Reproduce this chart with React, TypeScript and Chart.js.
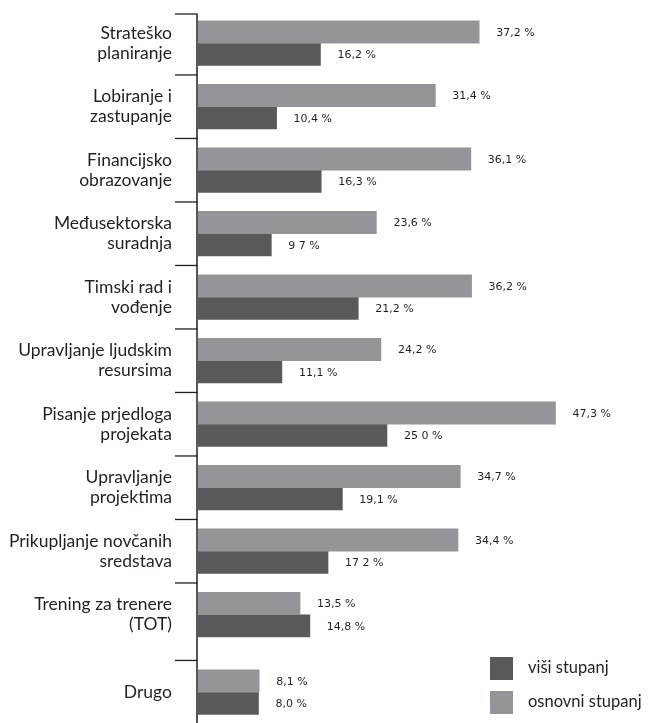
import React, { useEffect, useRef } from "react";
import { Chart, registerables } from "chart.js";

Chart.register(...registerables);

// ---- data ----
const categories: string[][] = [
  ["Strateško", "planiranje"],
  ["Lobiranje i", "zastupanje"],
  ["Financijsko", "obrazovanje"],
  ["Međusektorska", "suradnja"],
  ["Timski rad i", "vođenje"],
  ["Upravljanje ljudskim", "resursima"],
  ["Pisanje prjedloga", "projekata"],
  ["Upravljanje", "projektima"],
  ["Prikupljanje novčanih", "sredstava"],
  ["Trening za trenere", "(TOT)"],
  ["Drugo"],
];

const osnovniValues: number[] = [37.2, 31.4, 36.1, 23.6, 36.2, 24.2, 47.3, 34.7, 34.4, 13.5, 8.1];
const visiValues: number[] = [16.2, 10.4, 16.3, 9.7, 21.2, 11.1, 25.0, 19.1, 17.2, 14.8, 8.0];

const osnovniLabels: string[] = ["37,2 %", "31,4 %", "36,1 %", "23,6 %", "36,2 %", "24,2 %", "47,3 %", "34,7 %", "34,4 %", "13,5 %", "8,1 %"];
const visiLabels: string[] = ["16,2 %", "10,4 %", "16,3 %", "9 7 %", "21,2 %", "11,1 %", "25 0 %", "19,1 %", "17 2 %", "14,8 %", "8,0 %"];

const seriesNames: string[] = ["osnovni stupanj", "viši stupanj"];

// ---- styles ----
const LIGHT = "#939598";
const DARK = "#58595b";
const TEXT = "#231f20";
const LABEL_FONT = "Lato";
const VALUE_FONT = "DejaVu Sans";
const LAST_GROUP_EXTRA_GAP = 0.22;

const positions = categories.map((_, i) => i + (i === categories.length - 1 ? LAST_GROUP_EXTRA_GAP : 0));

const overlayPlugin = {
  id: "overlay",
  afterDraw(chart: any) {
    const { ctx, chartArea } = chart;
    const yScale = chart.scales.y;
    ctx.save();
    // axis line
    ctx.strokeStyle = "#231f20";
    ctx.lineWidth = 1.5;
    ctx.beginPath();
    ctx.moveTo(197, chartArea.top);
    ctx.lineTo(197, chartArea.bottom);
    ctx.stroke();
    // separators
    ctx.lineWidth = 1.3;
    positions.forEach((p, i) => {
      const y = i === 0 ? chartArea.top : yScale.getPixelForValue(p - 0.5);
      ctx.beginPath();
      ctx.moveTo(175, y);
      ctx.lineTo(197.5, y);
      ctx.stroke();
    });
    // value labels
    ctx.font = `11px "${VALUE_FONT}"`;
    ctx.fillStyle = TEXT;
    ctx.textAlign = "left";
    ctx.textBaseline = "middle";
    const labelSets = [osnovniLabels, visiLabels];
    chart.data.datasets.forEach((_: any, di: number) => {
      const meta = chart.getDatasetMeta(di);
      meta.data.forEach((el: any, i: number) => {
        ctx.fillText(labelSets[di][i], el.x + 17, el.y + 1);
      });
    });
    // legend (viši first, then osnovni)
    const legendItems = [
      { color: DARK, text: seriesNames[1] },
      { color: LIGHT, text: seriesNames[0] },
    ];
    ctx.font = `16.5px "${LABEL_FONT}"`;
    legendItems.forEach((item, k) => {
      const top = 657 + k * 34;
      ctx.fillStyle = item.color;
      ctx.fillRect(490, top, 23, 23);
      ctx.fillStyle = TEXT;
      ctx.fillText(item.text, 528, top + 11);
    });
    ctx.restore();
  },
};

export default function App() {
  const canvasRef = useRef<HTMLCanvasElement | null>(null);

  useEffect(() => {
    if (!canvasRef.current) return;
    const chart = new Chart(canvasRef.current, {
      type: "bar",
      data: {
        datasets: [
          {
            label: seriesNames[0],
            data: osnovniValues.map((v, i) => ({ x: v, y: positions[i] })),
            backgroundColor: LIGHT,
            borderWidth: 0,
          },
          {
            label: seriesNames[1],
            data: visiValues.map((v, i) => ({ x: v, y: positions[i] })),
            backgroundColor: DARK,
            borderWidth: 0,
          },
        ],
      },
      options: {
        indexAxis: "y",
        responsive: false,
        animation: false,
        barThickness: 22.3,
        layout: { padding: { top: 14, left: 0, right: 0, bottom: 0 } },
        plugins: {
          legend: { display: false },
          tooltip: { enabled: false },
        },
        scales: {
          x: {
            type: "linear",
            display: false,
            offset: false,
            min: 0,
            max: 59.8,
          },
          y: {
            type: "linear",
            reverse: true,
            offset: false,
            min: -0.46,
            max: 10.705,
            grid: { display: false, drawTicks: false, offset: false },
            border: { display: false },
            afterBuildTicks: (scale: any) => {
              scale.ticks = positions.map((p) => ({ value: p }));
            },
            afterFit: (scale: any) => {
              scale.width = 198;
              scale.paddingTop = 0;
              scale.paddingBottom = 0;
            },
            ticks: {
              autoSkip: false,
              padding: 26,
              color: TEXT,
              font: { family: LABEL_FONT, size: 17.5, lineHeight: 1.15 },
              callback: (_v: any, i: number) => categories[i],
            },
          },
        },
      } as any,
      plugins: [overlayPlugin],
    });
    return () => chart.destroy();
  }, []);

  return (
    <div style={{ position: "absolute", left: 0, top: 0, width: 650, height: 723, background: "#fff" }}>
      <canvas ref={canvasRef} width={650} height={723} style={{ display: "block" }} />
    </div>
  );
}
